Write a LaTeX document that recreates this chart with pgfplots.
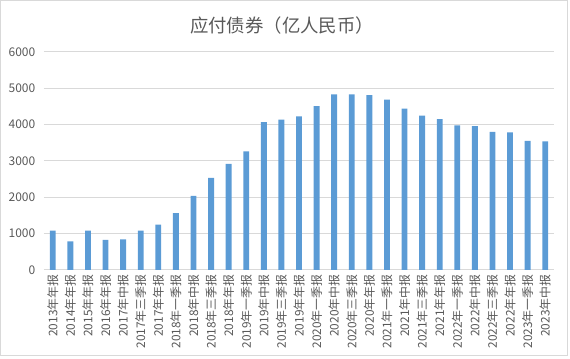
\documentclass[border=0pt]{standalone}
\usepackage{pgfplots}
\pgfplotsset{compat=1.18}
\usepackage{fontspec}
\setmainfont{Noto Sans CJK SC}
\definecolor{barblue}{HTML}{5B9BD5}
\definecolor{gridgray}{HTML}{D9D9D9}
\definecolor{txtgray}{HTML}{595959}
\begin{document}
\begin{tikzpicture}[x=0.75pt,y=0.75pt]
\useasboundingbox (-44,-89) rectangle (526,270);
\draw[gridgray,line width=0.75pt] (-43,-86) rectangle (523.5,269);
\node[txtgray,font=\fontsize{13.8}{16}\selectfont] at (238,244.5) {应付债券（亿人民币）};
\begin{axis}[
  at={(0,0)}, anchor=south west,
  scale only axis, width=382.5pt, height=163.5pt,
  ymin=0, ymax=6000, ytick={0,1000,...,6000},
  xmin=-0.5, xmax=28.5,
  xtick=data,
  xticklabels={2013年年报,2014年年报,2015年年报,2016年年报,2017年中报,2017年三季报,2017年年报,2018年一季报,2018年中报,2018年三季报,2018年年报,2019年一季报,2019年中报,2019年三季报,2019年年报,2020年一季报,2020年中报,2020年三季报,2020年年报,2021年一季报,2021年中报,2021年三季报,2021年年报,2022年一季报,2022年中报,2022年三季报,2022年年报,2023年一季报,2023年中报},
  xticklabel style={rotate=90, anchor=east, font=\fontsize{8.9}{10}\selectfont, text=txtgray, yshift=0pt},
  yticklabel style={font=\fontsize{9}{10}\selectfont, text=txtgray, xshift=-3pt},
  /pgf/number format/assume math mode=true,
  /pgf/number format/1000 sep={},
  major tick length=0pt,
  axis x line*=bottom, axis y line*=left,
  x axis line style={gridgray, line width=0.75pt, -},
  y axis line style={draw=none},
  ymajorgrids, grid style={gridgray, line width=0.75pt},
  ybar, bar width=4.4pt,
]
\addplot[fill=barblue, draw=none] coordinates {
(0,1085) (1,790) (2,1085) (3,827) (4,845) (5,1085) (6,1250) (7,1562) (8,2040) (9,2537)
(10,2923) (11,3263) (12,4072) (13,4136) (14,4228) (15,4513) (16,4835) (17,4835) (18,4816) (19,4688)
(20,4439) (21,4246) (22,4154) (23,3980) (24,3961) (25,3805) (26,3787) (27,3557) (28,3539)};
\end{axis}
\end{tikzpicture}
\end{document}
